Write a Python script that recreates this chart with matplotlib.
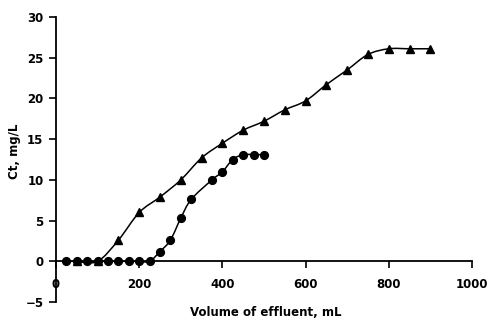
import numpy as np
import matplotlib
matplotlib.use("Agg")
import matplotlib.pyplot as plt
from matplotlib.path import Path
from matplotlib.patches import PathPatch

# Data
tri_x = [50, 100, 150, 200, 250, 300, 350, 400, 450, 500, 550, 600, 650, 700, 750, 800, 850, 900]
tri_y = [0, 0, 2.6, 6.0, 7.9, 10.0, 12.7, 14.5, 16.1, 17.2, 18.6, 19.7, 21.7, 23.5, 25.4, 26.1, 26.1, 26.1]
cir_x = [25, 50, 75, 100, 125, 150, 175, 200, 225, 250, 275, 300, 325, 375, 400, 425, 450, 475, 500]
cir_y = [0, 0, 0, 0, 0, 0, 0, 0, 0, 1.2, 2.6, 5.3, 7.6, 10.0, 11.0, 12.5, 13.1, 13.1, 13.1]

x_ticks = [0, 200, 400, 600, 800, 1000]
y_ticks = [-5, 0, 5, 10, 15, 20, 25, 30]

plt.rcParams['font.family'] = ['DejaVu Sans']

def smooth_path(xs, ys):
    pts = np.column_stack([xs, ys]).astype(float)
    n = len(pts)
    verts = [pts[0]]
    codes = [Path.MOVETO]
    for i in range(n - 1):
        p0 = pts[i - 1] if i > 0 else pts[i]
        p1 = pts[i]
        p2 = pts[i + 1]
        p3 = pts[i + 2] if i + 2 < n else pts[i + 1]
        c1 = p1 + (p2 - p0) / 6.0
        c2 = p2 - (p3 - p1) / 6.0
        verts += [c1, c2, p2]
        codes += [Path.CURVE4] * 3
    return Path(verts, codes)

fig = plt.figure(figsize=(4.87, 3.21), dpi=100)
ax = fig.add_axes([0.115, 0.059, 0.854, 0.888])

for xs, ys, m, ms in [(cir_x, cir_y, 'o', 5.6), (tri_x, tri_y, '^', 6.0)]:
    ax.add_patch(PathPatch(smooth_path(xs, ys), facecolor='none', edgecolor='black', lw=1.1))
    ax.plot(xs, ys, linestyle='none', marker=m, color='black', markersize=ms)

ax.set_xlim(0, 1000)
ax.set_ylim(-5, 30)
ax.spines['top'].set_visible(False)
ax.spines['right'].set_visible(False)
ax.spines['bottom'].set_position(('data', 0))
ax.spines['left'].set_linewidth(1.3)
ax.spines['bottom'].set_linewidth(1.3)
ax.set_xticks(x_ticks)
ax.set_yticks(y_ticks)
ax.tick_params(axis='x', direction='out', length=5, width=1.2, pad=7, labelsize=8.5)
ax.tick_params(axis='y', direction='out', length=5, width=1.2, pad=4, labelsize=8.5)
for lab in ax.get_xticklabels() + ax.get_yticklabels():
    lab.set_fontweight('bold')

fig.text(0.545, 0.028, 'Volume of effluent, mL', ha='center', va='center', fontsize=8.5, fontweight='bold')
fig.text(0.03, 0.53, 'Ct, mg/L', ha='center', va='center', rotation=90, fontsize=8.5, fontweight='bold')

fig.savefig('out.png', dpi=100)
